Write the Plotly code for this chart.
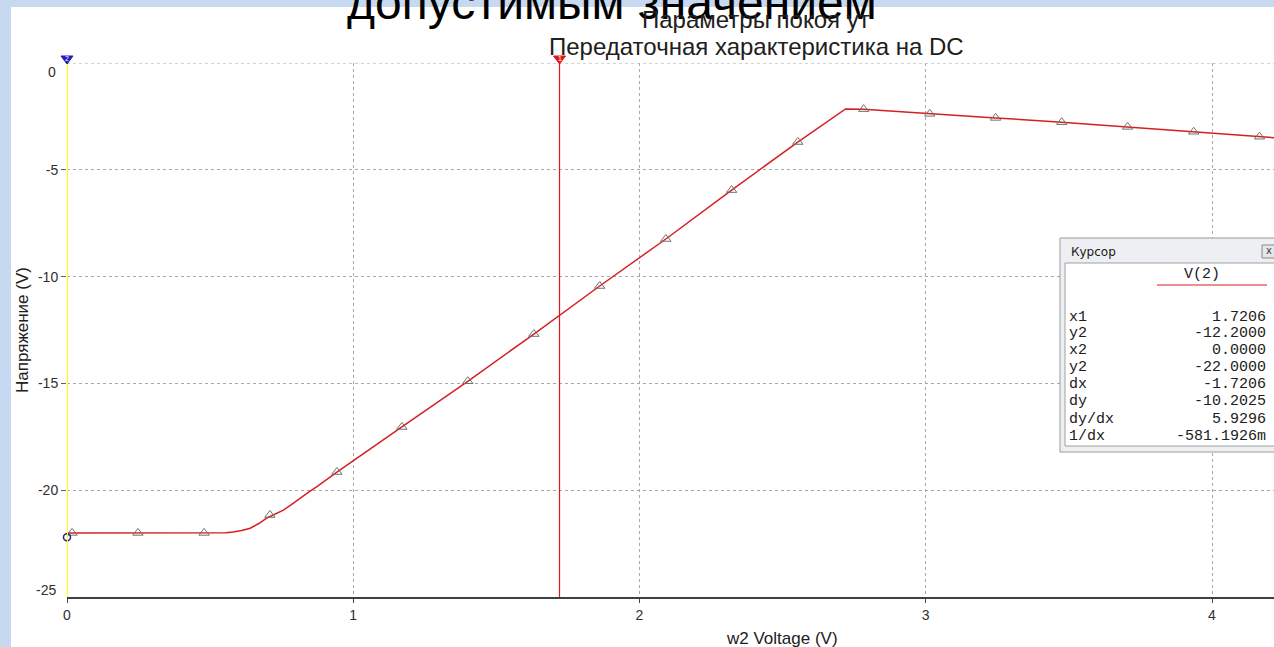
import plotly.graph_objects as go

# ---- data ----
curve_x = [0.0, 0.0175, 0.248, 0.479, 0.534, 0.555, 0.58, 0.61, 0.64, 0.67, 0.70, 0.73,
           0.756, 0.785, 0.814, 0.843, 0.873, 0.905,
           0.943, 1.17, 1.40, 1.631, 1.861, 2.092, 2.322, 2.553, 2.72, 2.783,
           3.014, 3.244, 3.475, 3.705, 3.936, 4.166, 4.22]
curve_y = [-22.0, -22.0, -22.0, -22.0, -22.0, -21.99, -21.96, -21.89, -21.78, -21.56, -21.29, -21.1,
           -20.93, -20.66, -20.37, -20.1, -19.83, -19.52,
           -19.15, -17.04, -14.9, -12.69, -10.44, -8.24, -5.95, -3.70, -2.15, -2.16,
           -2.38, -2.57, -2.77, -2.99, -3.22, -3.45, -3.5]
marker_x = [0.0175, 0.248, 0.479, 0.709, 0.943, 1.17, 1.40, 1.631, 1.861, 2.092,
            2.322, 2.553, 2.783, 3.014, 3.244, 3.475, 3.705, 3.936, 4.166]
marker_y = [-22.0, -22.0, -22.0, -21.16, -19.15, -17.04, -14.9, -12.69, -10.44, -8.24,
            -5.95, -3.70, -2.16, -2.38, -2.57, -2.77, -2.99, -3.22, -3.45]
x_ticks = [0, 1, 2, 3, 4]
y_ticks = [-5, -10, -15, -20]
cursor1_x = 1.7206
cursor2_x = 0.0
cursor2_y = -22.2
cursor_labels = ["x1", "y2", "x2", "y2", "dx", "dy", "dy/dx", "1/dx"]
cursor_values = ["1.7206", "-12.2000", "0.0000", "-22.0000", "-1.7206", "-10.2025", "5.9296", "-581.1926m"]

W, H = 1274, 647
L, R, T, B = 67, 1274, 63, 597
X_PER_UNIT = 286.25


def px(X):
    return (X - L) / (R - L)


def py(Y):
    return (B - Y) / (B - T)


SANS = "Liberation Sans, Arial, sans-serif"
MONO = "Liberation Mono, Courier New, monospace"

fig = go.Figure()
fig.add_trace(go.Scatter(x=curve_x, y=curve_y, mode="lines",
                         line=dict(color="#D42020", width=1.5), hoverinfo="skip"))
fig.add_trace(go.Scatter(x=marker_x, y=marker_y, mode="markers",
                         marker=dict(symbol="triangle-up-open", size=9,
                                     color="#707070", line=dict(width=1, color="#707070")),
                         hoverinfo="skip"))
fig.add_trace(go.Scatter(x=[cursor2_x], y=[cursor2_y], mode="markers", cliponaxis=False,
                         marker=dict(symbol="circle-open", size=7, color="#202090",
                                     line=dict(width=1.5, color="#202090")),
                         hoverinfo="skip"))

shapes = []
# background: light blue frame, white page
shapes.append(dict(type="rect", xref="paper", yref="paper", layer="below",
                   x0=px(-5), x1=px(11), y0=py(700), y1=py(-5),
                   fillcolor="#C6D9F1", line=dict(width=0)))
shapes.append(dict(type="rect", xref="paper", yref="paper", layer="below",
                   x0=px(-5), x1=px(1290), y0=py(7), y1=py(-5),
                   fillcolor="#C6D9F1", line=dict(width=0)))
# top dashed gridline at 0
shapes.append(dict(type="line", xref="paper", yref="y", x0=0, x1=1, y0=0, y1=0,
                   line=dict(color="#A8A8A8", width=1, dash="3px,3px"), layer="below"))
# cursor lines
shapes.append(dict(type="line", xref="x", yref="paper", x0=cursor2_x, x1=cursor2_x,
                   y0=0, y1=py(58), line=dict(color="#FFFF00", width=2)))
shapes.append(dict(type="line", xref="x", yref="paper", x0=cursor1_x, x1=cursor1_x,
                   y0=0, y1=py(58), line=dict(color="#E01818", width=1.2)))


def flag(xval, color):
    cx = L + xval * X_PER_UNIT
    path = "M {a},{t} L {b},{t} L {c},{bt} Z".format(
        a=px(cx - 6), b=px(cx + 6), c=px(cx), t=py(56), bt=py(64))
    return dict(type="path", xref="paper", yref="paper", path=path,
                fillcolor=color, line=dict(color=color, width=1))


shapes.append(flag(cursor2_x, "#1E1EB4"))
shapes.append(flag(cursor1_x, "#E01818"))

# cursor window
shapes.append(dict(type="rect", xref="paper", yref="paper",
                   x0=px(1060), x1=px(1290), y0=py(452), y1=py(238),
                   fillcolor="#EDEFF2", line=dict(color="#9A9A9A", width=1)))
shapes.append(dict(type="rect", xref="paper", yref="paper",
                   x0=px(1065), x1=px(1290), y0=py(446), y1=py(263),
                   fillcolor="#FFFFFF", line=dict(color="#A0A0A0", width=1)))
shapes.append(dict(type="rect", xref="paper", yref="paper",
                   x0=px(1262), x1=px(1282), y0=py(258), y1=py(245),
                   fillcolor="#E4E6EA", line=dict(color="#8A8A8A", width=1)))
shapes.append(dict(type="line", xref="paper", yref="paper",
                   x0=px(1157), x1=px(1267), y0=py(285), y1=py(285),
                   line=dict(color="#D42020", width=1.2)))

ann = []
font_ax = dict(family=SANS, size=14, color="#303030")
# big slide text behind
ann.append(dict(text="допустимым значением", xref="paper", yref="paper",
                x=px(345), y=py(2), xanchor="left", yanchor="middle", showarrow=False,
                font=dict(family=SANS, size=48, color="#000000")))
ann.append(dict(text="Параметры покоя ут", xref="paper", yref="paper",
                x=px(756), y=py(20), xanchor="center", yanchor="middle", showarrow=False,
                font=dict(family=SANS, size=24, color="#202020")))
ann.append(dict(text="Передаточная характеристика на DC", xref="paper", yref="paper",
                x=px(757), y=py(46), xanchor="center", yanchor="middle", showarrow=False,
                font=dict(family=SANS, size=24, color="#202020")))
# y tick labels at ends (shifted inward, as in the picture)
ann.append(dict(text="0", xref="paper", yref="paper", x=px(58), y=py(72),
                xanchor="right", yanchor="middle", showarrow=False, font=font_ax))
ann.append(dict(text="-25", xref="paper", yref="paper", x=px(58), y=py(590),
                xanchor="right", yanchor="middle", showarrow=False, font=font_ax))
# axis titles
ann.append(dict(text="Напряжение (V)", xref="paper", yref="paper", x=px(22), y=py(330),
                textangle=-90, xanchor="center", yanchor="middle", showarrow=False,
                font=dict(family=SANS, size=17, color="#202020")))
ann.append(dict(text="w2 Voltage (V)", xref="paper", yref="paper", x=px(782), y=py(638),
                xanchor="center", yanchor="middle", showarrow=False,
                font=dict(family=SANS, size=17, color="#202020")))
# cursor flag numbers
for xval, lab in [(cursor2_x, "2"), (cursor1_x, "1")]:
    ann.append(dict(text=lab, xref="paper", yref="paper", x=px(L + xval * X_PER_UNIT), y=py(59),
                    xanchor="center", yanchor="middle", showarrow=False,
                    font=dict(family=SANS, size=7, color="#FFFFFF")))
# cursor window texts
ann.append(dict(text="Курсор", xref="paper", yref="paper", x=px(1069), y=py(252),
                xanchor="left", yanchor="middle", showarrow=False,
                font=dict(family="DejaVu Sans, sans-serif", size=12, color="#1A1A1A")))
ann.append(dict(text="x", xref="paper", yref="paper", x=px(1269), y=py(251),
                xanchor="center", yanchor="middle", showarrow=False,
                font=dict(family="DejaVu Sans, sans-serif", size=10, color="#404040")))
ann.append(dict(text="V(2)", xref="paper", yref="paper", x=px(1202), y=py(274),
                xanchor="center", yanchor="middle", showarrow=False,
                font=dict(family=MONO, size=15, color="#202020")))
row_y = [317, 333, 350, 367, 384, 401, 419, 436]
for lab, val, yy in zip(cursor_labels, cursor_values, row_y):
    ann.append(dict(text=lab, xref="paper", yref="paper", x=px(1067), y=py(yy),
                    xanchor="left", yanchor="middle", showarrow=False,
                    font=dict(family=MONO, size=15, color="#202020")))
    ann.append(dict(text=val, xref="paper", yref="paper", x=px(1268), y=py(yy),
                    xanchor="right", yanchor="middle", showarrow=False,
                    font=dict(family=MONO, size=15, color="#202020")))

fig.update_layout(
    width=W, height=H,
    margin=dict(l=L, r=W - R, t=T, b=H - B, autoexpand=False),
    paper_bgcolor="#FFFFFF", plot_bgcolor="#FFFFFF",
    showlegend=False,
    shapes=shapes, annotations=ann,
    xaxis=dict(range=[0, (R - L) / X_PER_UNIT], tickvals=x_ticks, ticktext=[str(v) for v in x_ticks],
               showgrid=True, gridcolor="#A8A8A8", griddash="3px,3px", gridwidth=1,
               zeroline=False, showline=True, linecolor="#404040", linewidth=1.5,
               ticks="outside", ticklen=4, tickcolor="#404040", tickfont=font_ax),
    yaxis=dict(range=[-25, 0], tickvals=y_ticks, ticktext=[str(v) for v in y_ticks],
               showgrid=True, gridcolor="#A8A8A8", griddash="3px,3px", gridwidth=1,
               zeroline=False, showline=False,
               ticks="outside", ticklen=5, tickcolor="#606060", tickfont=font_ax),
)
fig.write_html("out.html", config={"displayModeBar": False},
               post_script="document.body.style.margin='0px';document.body.style.overflow='hidden';")
